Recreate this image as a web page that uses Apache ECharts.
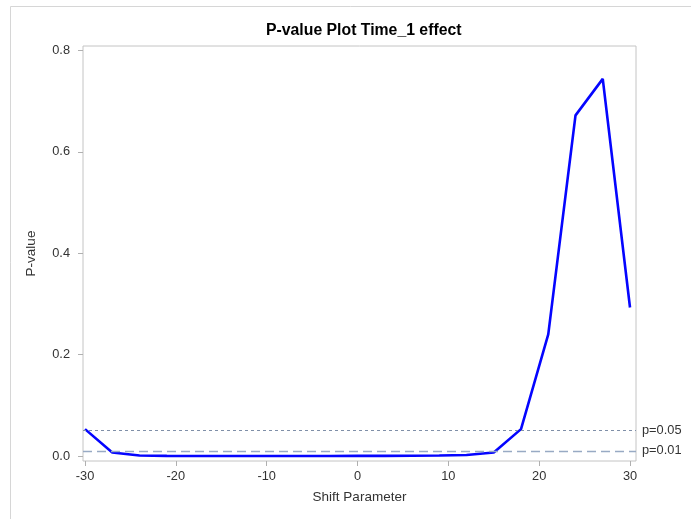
<!DOCTYPE html>
<html>
<head>
<meta charset="utf-8">
<script src="https://cdn.jsdelivr.net/npm/echarts@6/dist/echarts.min.js"></script>
<style>html,body{margin:0;padding:0;background:#fff;}#c{width:691px;height:519px;}</style>
</head>
<body>
<div id="c"></div>
<script>
var shifts = [-30,-27,-24,-21,-18,-15,-12,-9,-6,-3,0,3,6,9,12,15,18,21,24,27,30];
var pvalues = [0.053,0.007,0.001,0.0003,0.0001,0.0001,0.0001,0.0001,0.0001,0.0001,0.0002,0.0003,0.0005,0.001,0.002,0.007,0.053,0.240,0.672,0.744,0.293];
var xTicks = [-30,-20,-10,0,10,20,30];
var yTicks = [0,0.2,0.4,0.6,0.8];
var refLines = [0.05, 0.01];
var refLabels = ['p=0.05','p=0.01'];
var titleText = 'P-value Plot Time_1 effect';
var xName = 'Shift Parameter';
var yName = 'P-value';

var font = 'Liberation Sans, Arial, sans-serif';
var chart = echarts.init(document.getElementById('c'), null, {renderer:'canvas'});
var data = shifts.map(function(s,i){return [s,pvalues[i]];});
var refStyles = [
  {color:'#7f8fa8', type:[3,3], width:1},
  {color:'#98aac4', type:[9,5], width:1.3}
];
chart.setOption({
  animation:false,
  backgroundColor:'#fff',
  title:{text:titleText,left:261,top:18,textStyle:{fontFamily:font,fontSize:15.8,fontWeight:'bold',color:'#000'}},
  grid:{left:83,top:46,right:55,bottom:58,show:true,borderColor:'#c4c4c4',borderWidth:1,containLabel:false},
  xAxis:{type:'value',min:-30.22,max:30.66,name:xName,nameLocation:'middle',nameGap:29,
    nameTextStyle:{fontFamily:font,fontSize:13.5,color:'#333'},
    axisLine:{show:false,onZero:false},splitLine:{show:false},
    axisTick:{show:true,length:5,customValues:xTicks,lineStyle:{color:'#b0b0b0'}},
    axisLabel:{customValues:xTicks,margin:9,fontFamily:font,fontSize:12.8,color:'#333'}},
  yAxis:{type:'value',min:-0.0099,max:0.8089,name:yName,nameLocation:'middle',nameGap:45,
    nameTextStyle:{fontFamily:font,fontSize:13.5,color:'#333'},
    axisLine:{show:false,onZero:false},splitLine:{show:false},
    axisTick:{show:true,length:5,customValues:yTicks,lineStyle:{color:'#b0b0b0'}},
    axisLabel:{customValues:yTicks,margin:13,fontFamily:font,fontSize:12.8,color:'#333',
      formatter:function(v){return v.toFixed(1);}}},
  graphic:[{type:'polyline',shape:{points:[[691,6.5],[10.5,6.5],[10.5,519]]},style:{stroke:'#d6d6d6',lineWidth:1,fill:null}}],
  series:[{
    type:'line',data:data,showSymbol:false,symbol:'none',
    lineStyle:{color:'#0505ff',width:2.6},
    z:3,
    markLine:{silent:true,symbol:'none',animation:false,
      data:refLines.map(function(v,i){return {yAxis:v,lineStyle:refStyles[i],
        label:{show:true,position:'end',distance:6,formatter:refLabels[i],fontFamily:font,fontSize:12.8,color:'#333'}};})}
  }]
});
</script>
</body>
</html>
